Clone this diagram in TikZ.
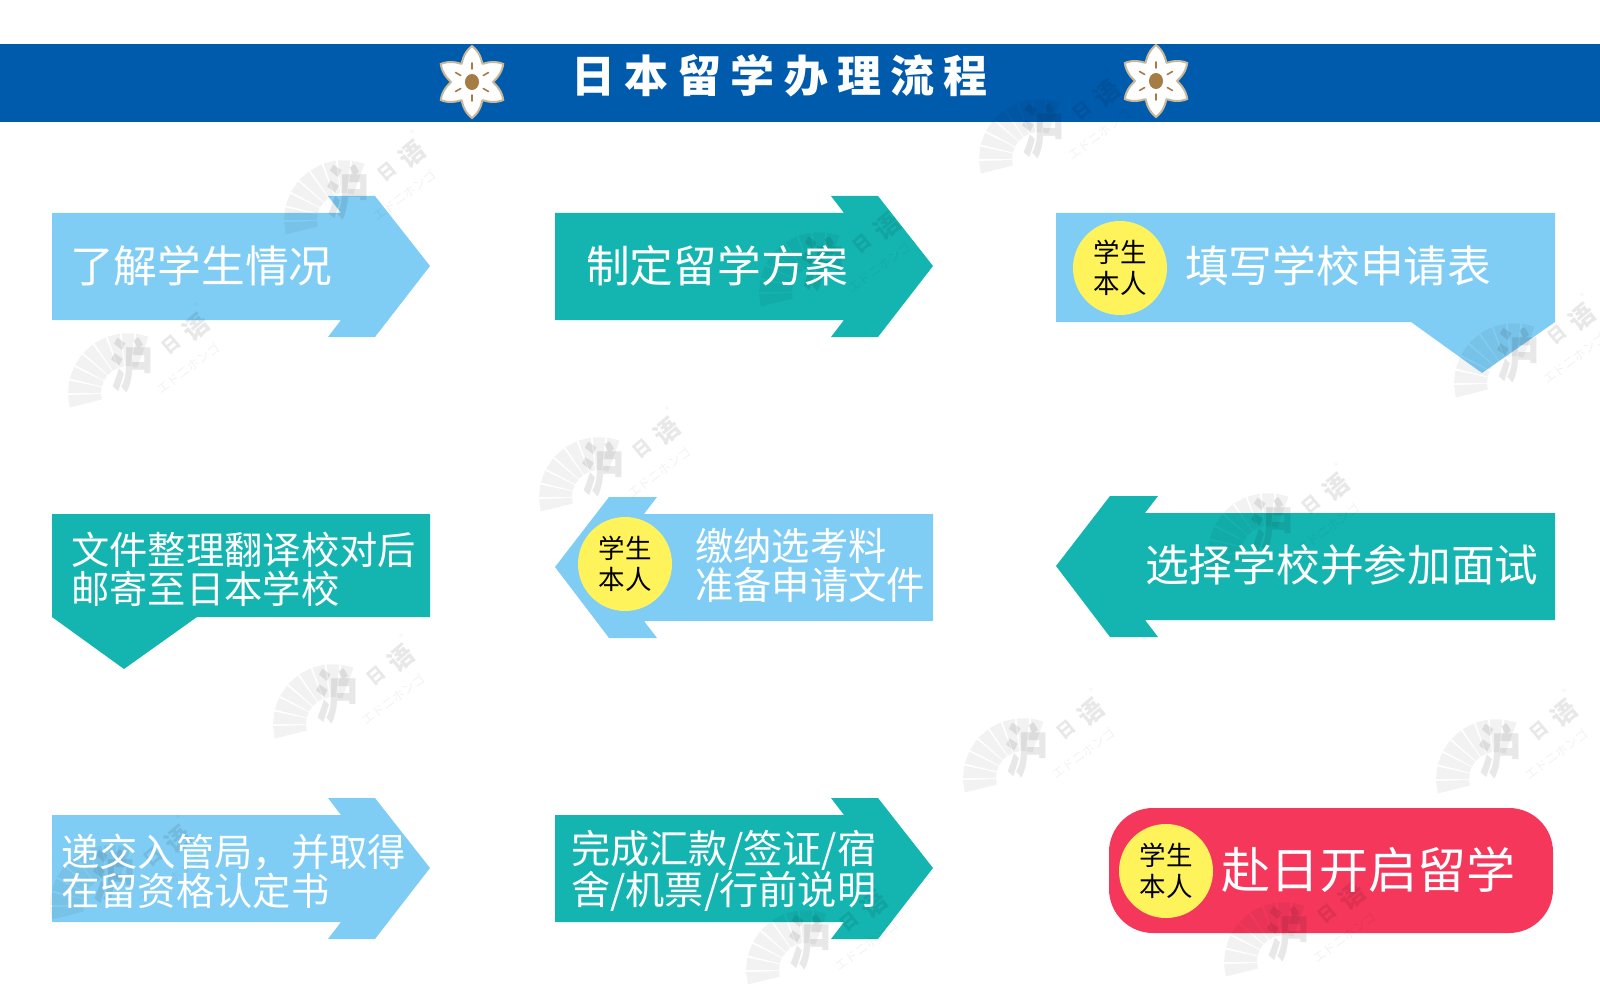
\documentclass[tikz,border=0pt]{standalone}
\usepackage{fontspec}
\setmainfont{Noto Sans CJK SC}
\newfontfamily\cjk{Noto Sans CJK SC}
\newfontfamily\titlefont[LetterSpace=21]{Noto Sans CJK SC}
\usetikzlibrary{shapes.geometric,calc}

\definecolor{bannerblue}{HTML}{005BAC}
\definecolor{skyblue}{HTML}{7FCDF5}
\definecolor{tealgreen}{HTML}{14B5B0}
\definecolor{badgeyellow}{HTML}{FFF35C}
\definecolor{finishred}{HTML}{F5375B}
\definecolor{flowerrim}{HTML}{C9B79A}
\definecolor{flowerbrown}{HTML}{A67C45}

\tikzset{
  bigtext/.style={anchor=west, inner sep=0pt, text=white, font=\cjk\fontsize{43.7}{44}\selectfont},
  midtext/.style={anchor=west, inner sep=0pt, text=white, align=left, font=\cjk\fontsize{38.3}{39}\selectfont},
  badge/.style={circle, fill=badgeyellow, minimum size=94pt, inner sep=0pt, align=center, text=black, font=\cjk\fontsize{26.5}{31}\selectfont},
  wmtext/.style={text=black, text opacity=.09, inner sep=0pt},
  flower/.pic={
    \draw[fill=white, draw=flowerrim, line width=2pt] plot[domain=0:360, samples=181] (\x:{21+15*pow(max(1-abs(sin(3*(\x-90))),0.0005),0.6)}) -- cycle;
    \foreach \a in {30,90,...,330}
      \draw[flowerbrown, line width=1.6pt, line cap=round] (\a:13) -- (\a:19);
    \fill[flowerbrown] (0,0) ellipse (7 and 8);
  },
  logomark/.pic={
    \foreach \a in {70,84,...,182}
      \fill[black, opacity=.05] ($(10,0)+(-\a:27)$) -- ($(10,0)+(-\a:60)$) -- ($(10,0)+(-\a-12:60)$) -- ($(10,0)+(-\a-12:27)$) -- cycle;
    \node[wmtext, font=\cjk\bfseries\fontsize{58}{58}\selectfont, xscale=.75] (-hu) at (14,-28) {沪};
    \node[wmtext, font=\cjk\bfseries\fontsize{18}{18}\selectfont, rotate=40] (-ri) at (53,-48) {日};
    \node[wmtext, font=\cjk\bfseries\fontsize{25}{25}\selectfont, rotate=40] (-yu) at (78,-66) {语};
    \node[wmtext, text opacity=.05, font=\cjk\fontsize{12.5}{12.5}\selectfont, rotate=37] (-kana) at (70,-25) {エドニホンゴ};
    \node[wmtext, text opacity=.06, font=\cjk\fontsize{8}{8}\selectfont] (-mark) at (78,-87) {®};
  }
}

\begin{document}
\begin{tikzpicture}[x=1pt,y=-1pt]
  \useasboundingbox (0,0) rectangle (1600,1000);

  % Title bar
  \fill[bannerblue] (0,44) rectangle (1600,122);
  \pic (flowerl) at (472,82) {flower};
  \pic (flowerr) at (1156,81) {flower};
  \node[anchor=west, inner sep=0pt, text=white, font=\titlefont\bfseries\fontsize{44}{44}\selectfont] (title) at (571,76) {日本留学办理流程};

  % Top row
  \fill[skyblue] (52,213) -- (341,213) -- (328,196) -- (375,196) -- (430,266) -- (375,337) -- (328,337) -- (341,320) -- (52,320) -- cycle;
  \fill[tealgreen] (555,213) -- (844,213) -- (831,196) -- (878,196) -- (933,266) -- (878,337) -- (831,337) -- (844,320) -- (555,320) -- cycle;
  \fill[skyblue] (1056,213) -- (1555,213) -- (1555,322) -- (1482,373) -- (1411,322) -- (1056,322) -- cycle;

  % Middle row
  \fill[tealgreen] (52,514) -- (430,514) -- (430,617) -- (197,617) -- (124,669) -- (52,617) -- cycle;
  \fill[skyblue] (933,514) -- (644,514) -- (657,497) -- (609,497) -- (555,567) -- (609,638) -- (657,638) -- (644,621) -- (933,621) -- cycle;
  \fill[tealgreen] (1555,513) -- (1145,513) -- (1158,496) -- (1110,496) -- (1056,566) -- (1110,637) -- (1158,637) -- (1145,620) -- (1555,620) -- cycle;

  % Bottom row
  \fill[skyblue] (52,815) -- (341,815) -- (328,798) -- (375,798) -- (430,868) -- (375,939) -- (328,939) -- (341,922) -- (52,922) -- cycle;
  \fill[tealgreen] (555,815) -- (844,815) -- (831,798) -- (878,798) -- (933,868) -- (878,939) -- (831,939) -- (844,922) -- (555,922) -- cycle;
  \fill[finishred, rounded corners=44pt] (1109,808) rectangle (1553,933);

  % Watermarks
  \foreach \wx/\wy [count=\wi] in {334/220, 118/393, 589/497, 1029/159, 1504/383, 323/724, 1013/778, 1486/779, 1258/553, 809/292, 100/905, 796/970, 1274/962}
    \pic (wm\wi) at (\wx,\wy) {logomark};

  % Labels
  \node[bigtext] (know) at (70,266) {了解学生情况};
  \node[bigtext] (plan) at (586,266) {制定留学方案};
  \node[badge] (badgea) at (1120,268) {学生\\本人};
  \node[bigtext] (form) at (1185,266) {填写学校申请表};

  \node[midtext] (mail) at (71,569) {文件整理翻译校对后\\邮寄至日本学校};
  \node[badge] (badgeb) at (625,564) {学生\\本人};
  \node[midtext] (fee) at (695,565) {缴纳选考料\\准备申请文件};
  \node[bigtext] (exam) at (1145,565) {选择学校并参加面试};

  \node[midtext] (visa) at (61,871) {递交入管局，并取得\\在留资格认定书};
  \node[midtext, font=\cjk\fontsize{39.2}{39}\selectfont] (pay) at (571,871) {完成汇款/签证/宿\\舍/机票/行前说明};
  \node[badge] (badgec) at (1166,871) {学生\\本人};
  \node[anchor=west, inner sep=0pt, text=white, font=\cjk\fontsize{49}{49}\selectfont] (leave) at (1221,870) {赴日开启留学};
\end{tikzpicture}
\end{document}
